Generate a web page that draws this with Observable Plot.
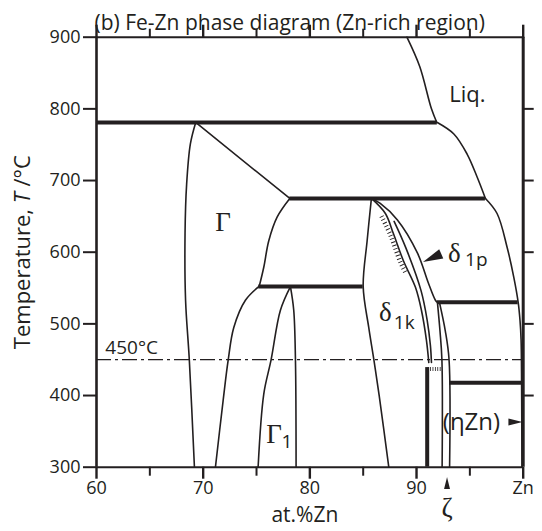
<!DOCTYPE html>
<html><head><meta charset="utf-8">
<script src="https://cdn.jsdelivr.net/npm/d3@7"></script>
<script src="https://cdn.jsdelivr.net/npm/@observablehq/plot@0.6"></script>
<style>body{margin:0;background:#fff} svg{display:block}</style>
</head><body><div id="chart"></div>
<script>
// ---- tick values / labels
const xMajorTicks = [60, 70, 80, 90, 100];
const xTickLabels = ["60", "70", "80", "90", "Zn"];
const xMinorTicks = [65, 75, 85, 95];
const yTicks = [300, 400, 500, 600, 700, 800, 900];
const yRightTicks = [400, 500, 600, 700, 800];

// ---- phase boundaries [at.%Zn, T °C]
const liquidusUpper = [[89.1, 900], [90.3, 859], [91.4, 800], [91.9, 781]];
const liquidusMid = [[91.95, 781], [93.5, 765], [94.74, 737], [95.68, 705], [96.46, 675]];
const liquidusLow = [[96.46, 675], [97.55, 654], [98.49, 607], [99.12, 565], [99.53, 530], [99.7, 505], [99.8, 478], [99.85, 418], [99.88, 300]];
const gammaLeft = [[69.3, 781], [68.8, 751], [68.45, 695], [68.3, 626], [68.35, 533], [68.7, 450], [69.18, 300]];
const gammaPeritectic = [[69.3, 781], [78.12, 675]];
const gammaRight = [[78.12, 675], [76.93, 649], [76.15, 616], [75.68, 579], [75.25, 552]];
const gammaLow = [[75.21, 552], [73.96, 533], [72.87, 495], [72.34, 449], [71.87, 393], [71.15, 300]];
const gamma1Left = [[78.18, 552], [77.24, 519], [76.37, 450], [75.68, 402], [75.15, 300]];
const gamma1Right = [[78.18, 552], [78.49, 519], [78.65, 450], [78.71, 300]];
const deltaLeft = [[85.77, 675], [85.37, 616], [85.0, 552], [85.52, 495], [86.0, 450], [86.5, 400], [87.4, 300]];
const deltaHatched = [[85.77, 675], [87.08, 654], [87.83, 626], [88.77, 588], [89.9, 551], [90.46, 519], [90.93, 477], [91.15, 446]];
const deltaMiddle = [[87.9, 643], [89.0, 606], [90.43, 546], [91.0, 505], [91.3, 470], [91.4, 446]];
const deltaOuter = [[85.77, 675], [86.6, 668], [88.21, 645], [90.08, 599], [91.11, 557], [91.77, 533], [91.96, 530]];
const zetaLeft = [[91.96, 530], [92.2, 490], [92.38, 450], [92.4, 300]];
const zetaRight = [[92.15, 530], [92.7, 490], [93.05, 450], [93.1, 300]];
const hatchSegment = [[87.0, 652], [87.83, 626], [88.77, 588], [89.3, 572]];

// ---- invariant lines (thick)
const isothermT = [781, 675, 552, 530, 418];
const isothermFrom = [60, 78.12, 75.21, 91.96, 93.1];
const isothermTo = [91.95, 96.46, 85.0, 99.53, 100];
const thickVertical = [{x: 91.0, T1: 439, T2: 300}];
const smallHatch = [{T: 437, x1: 91.1, x2: 92.3}];

// ---- labels
const serifSymbols = [
  {text: "Γ", x: 71.87, T: 641, size: 27},
  {text: "Γ", x: 76.65, T: 346, size: 27},
  {text: "δ", x: 87.08, T: 516, size: 27},
  {text: "δ", x: 93.55, T: 599, size: 27},
  {text: "ζ", x: 92.87, T: 243, size: 27}
];
const subscripts = [
  {text: "1", x: 77.85, T: 335},
  {text: "1k", x: 88.85, T: 501},
  {text: "1p", x: 95.6, T: 589}
];
const sansLabels = [
  {text: "Liq.", x: 94.77, T: 820, size: 22},
  {text: "(ηZn)", x: 95.15, T: 363, size: 24},
  {text: "450°C", x: 63.3, T: 466, size: 19}
];
const arrows = [
  {x: 91.46, T: 592, r: 10, rotate: 156},
  {x: 99.27, T: 363, r: 7, rotate: 0},
  {x: 92.86, T: 278, r: 6, rotate: -90}
];

const ink = "#231f20";
const curves = [liquidusUpper, liquidusMid, liquidusLow, gammaLeft, gammaPeritectic, gammaRight, gammaLow,
  gamma1Left, gamma1Right, deltaLeft, deltaHatched, deltaMiddle, deltaOuter, zetaLeft, zetaRight];
const curveRows = curves.flatMap((c, i) => c.map(([x, T]) => ({x, T, id: i})));
const isotherms = isothermT.map((T, i) => ({T, x1: isothermFrom[i], x2: isothermTo[i]}));

const wedge = {
  draw(context, size) {
    const r = Math.sqrt(size / Math.PI);
    context.moveTo(r, 0);
    context.lineTo(-r, -r * 0.5);
    context.lineTo(-r, r * 0.5);
    context.closePath();
  }
};

const serif = "'Liberation Serif', 'DejaVu Serif', serif";
const sans = "'Open Sans', sans-serif";

const chart = Plot.plot({
  width: 542, height: 531,
  marginLeft: 96, marginRight: 19.3, marginTop: 36.7, marginBottom: 64.3,
  style: {fontFamily: sans, color: ink, background: "#fff"},
  x: {domain: [60, 100]},
  y: {domain: [300, 900]},
  marks: [
    // dash-dot 450 °C
    Plot.ruleY([450], {stroke: ink, strokeWidth: 1.3, strokeDasharray: "15 4 3 4"}),
    // thin boundaries
    Plot.line(curveRows, {x: "x", y: "T", z: "id", curve: "catmull-rom", stroke: ink, strokeWidth: 1.6}),
    // hatching
    Plot.line(hatchSegment, {x: d => d[0], y: d => d[1], curve: "catmull-rom", stroke: ink, strokeWidth: 4.5,
      strokeDasharray: "0.9 2.6", strokeLinecap: "butt", dx: -3, dy: 1.4}),
    Plot.ruleY(smallHatch, {y: "T", x1: "x1", x2: "x2", stroke: ink, strokeWidth: 4, strokeDasharray: "0.8 1.6", strokeLinecap: "butt"}),
    // thick invariant lines
    Plot.ruleY(isotherms, {y: "T", x1: "x1", x2: "x2", stroke: ink, strokeWidth: 4}),
    Plot.ruleX(thickVertical, {x: "x", y1: "T1", y2: "T2", stroke: ink, strokeWidth: 4}),
    // frame
    Plot.ruleX([60], {stroke: ink, strokeWidth: 2.6}),
    Plot.ruleX([100], {stroke: ink, strokeWidth: 3}),
    Plot.ruleY([900], {stroke: ink, strokeWidth: 2}),
    Plot.ruleY([300], {stroke: ink, strokeWidth: 2}),
    // axes
    Plot.axisX(xMajorTicks, {anchor: "bottom", tickSize: 12, strokeWidth: 2.4, tickPadding: 2, fontSize: 18,
      tickFormat: d => xTickLabels[xMajorTicks.indexOf(d)], label: null, color: ink}),
    Plot.axisX(xMinorTicks, {anchor: "bottom", tickSize: 9, strokeWidth: 2, tickFormat: () => "", label: null, color: ink}),
    Plot.axisX(xMajorTicks, {anchor: "top", tickSize: 13, strokeWidth: 2.4, tickFormat: () => "", label: null, color: ink}),
    Plot.axisX(xMinorTicks, {anchor: "top", tickSize: 9, strokeWidth: 2, tickFormat: () => "", label: null, color: ink}),
    Plot.axisY(yTicks, {anchor: "left", tickSize: 13, strokeWidth: 2, tickPadding: 3, fontSize: 18, label: null, color: ink}),
    Plot.axisY(yRightTicks, {anchor: "right", tickSize: 10, strokeWidth: 2, tickFormat: () => "", label: null, color: ink}),
    // labels
    Plot.text(serifSymbols, {x: "x", y: "T", text: "text", fontSize: d => d.size, fontFamily: serif, fill: ink}),
    Plot.text(subscripts, {x: "x", y: "T", text: "text", fontSize: 19, fontFamily: sans, fill: ink}),
    Plot.text(sansLabels, {x: "x", y: "T", text: "text", fontSize: d => d.size, fontFamily: sans, fill: ink}),
    ...arrows.map(a => Plot.dot([a], {x: "x", y: "T", symbol: wedge, r: a.r, rotate: a.rotate, fill: ink, stroke: "none"})),
    // titles
    Plot.text(["(b) Fe-Zn phase diagram (Zn-rich region)"], {frameAnchor: "top-left", dy: -22, dx: -2, textAnchor: "start", fontSize: 21, fill: ink}),
    Plot.text(["at.%Zn"], {frameAnchor: "bottom", dy: 55, dx: -5, fontSize: 21, fill: ink}),
    Plot.text(["Temperature, T /°C"], {frameAnchor: "left", textAnchor: "middle", dx: -74, dy: 0, rotate: -90, fontSize: 22, fill: ink})
  ]
});

// italic T in the axis title
chart.querySelectorAll("text").forEach(t => {
  if (t.textContent === "Temperature, T /°C") {
    t.textContent = "";
    const ns = "http://www.w3.org/2000/svg";
    const a = document.createElementNS(ns, "tspan"); a.textContent = "Temperature, ";
    const b = document.createElementNS(ns, "tspan"); b.textContent = "T"; b.setAttribute("font-style", "italic");
    const c = document.createElementNS(ns, "tspan"); c.textContent = " /°C";
    t.append(a, b, c);
  }
});
document.getElementById("chart").append(chart);
</script>
</body></html>
